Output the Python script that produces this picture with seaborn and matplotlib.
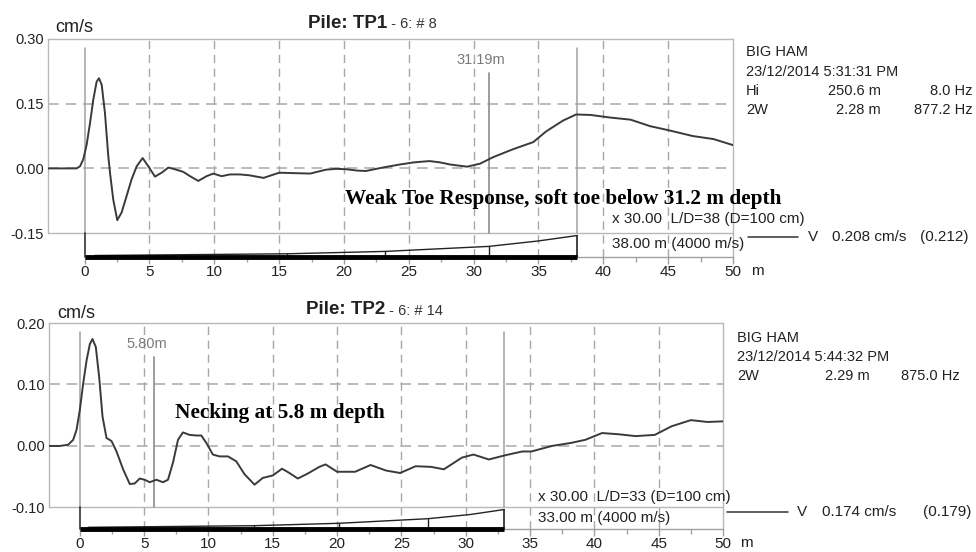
import matplotlib
matplotlib.use("Agg")
import matplotlib.pyplot as plt
import seaborn as sns
import pandas as pd
from matplotlib.lines import Line2D

# ---------------- data ----------------
tp1_depth = [-2.85, -0.61, -0.35, -0.10, 0.16, 0.42, 0.67, 0.93, 1.11, 1.32, 1.57, 1.83, 1.96, 2.21,
             2.52, 2.86, 3.24, 3.63, 4.02, 4.48, 4.91, 5.43, 5.94, 6.46, 6.97, 7.61, 8.13, 8.77,
             9.41, 9.92, 10.57, 11.21, 11.98, 12.7, 13.8, 15.0, 16.2, 17.4, 18.6, 19.4, 20.2,
             21.0, 21.7, 23.0, 24.3, 25.4, 26.6, 27.4, 28.2, 29.5, 30.5, 31.5, 33.0, 34.6, 35.6,
             36.9, 37.9, 39.0, 40.5, 42.1, 43.6, 45.1, 46.9, 48.5, 50.0]
tp1_vel = [0.0, 0.0, 0.005, 0.021, 0.055, 0.105, 0.159, 0.201, 0.209, 0.194, 0.129, 0.028, -0.010,
           -0.072, -0.120, -0.102, -0.064, -0.025, 0.005, 0.024, 0.005, -0.019, -0.010, 0.002,
           -0.002, -0.008, -0.018, -0.029, -0.018, -0.012, -0.018, -0.014, -0.014, -0.016, -0.022,
           -0.010, -0.011, -0.012, -0.003, -0.001, -0.002, -0.005, -0.006, 0.002, 0.009, 0.014,
           0.017, 0.014, 0.009, 0.004, 0.011, 0.026, 0.044, 0.061, 0.086, 0.111, 0.125, 0.124,
           0.118, 0.113, 0.098, 0.088, 0.075, 0.068, 0.054]

tp2_depth = [-2.4, -1.55, -0.91, -0.52, -0.26, 0.0, 0.26, 0.52, 0.78, 0.98, 1.24, 1.50, 1.76, 2.07,
             2.46, 2.85, 3.36, 3.88, 4.27, 4.65, 5.04, 5.43, 5.95, 6.46, 6.85, 7.24, 7.63, 8.01,
             8.53, 9.05, 9.44, 9.83, 10.34, 10.86, 11.51, 12.16, 12.80, 13.58, 14.22, 15.0, 15.72,
             16.29, 16.94, 17.71, 18.62, 19.1, 20.0, 21.4, 22.6, 23.8, 24.9, 26.1, 27.3, 28.3,
             29.7, 30.6, 31.8, 33.1, 34.4, 35.1, 36.7, 38.2, 39.3, 40.6, 41.9, 43.2, 44.7, 46.0,
             47.5, 48.8, 50.0]
tp2_vel = [0.0, 0.0, 0.002, 0.010, 0.026, 0.059, 0.102, 0.139, 0.166, 0.174, 0.161, 0.112, 0.048,
           0.013, 0.008, -0.009, -0.038, -0.062, -0.061, -0.053, -0.055, -0.059, -0.055, -0.059,
           -0.055, -0.027, 0.010, 0.022, 0.018, 0.017, 0.017, 0.005, -0.014, -0.017, -0.017,
           -0.025, -0.046, -0.063, -0.052, -0.048, -0.037, -0.044, -0.053, -0.045, -0.034, -0.030,
           -0.042, -0.042, -0.031, -0.040, -0.044, -0.033, -0.034, -0.038, -0.019, -0.014, -0.022,
           -0.015, -0.009, -0.009, 0.000, 0.005, 0.010, 0.021, 0.019, 0.016, 0.018, 0.032, 0.042,
           0.039, 0.040]

x_ticks = [0, 5, 10, 15, 20, 25, 30, 35, 40, 45, 50]
tp1_yticks = [0.30, 0.15, 0.00, -0.15]
tp2_yticks = [0.20, 0.10, 0.00, -0.10]

tp1_length = 38.0
tp2_length = 33.0
tp1_marker, tp1_marker_label = 31.19, "31.19m"
tp2_marker, tp2_marker_label = 5.80, "5.80m"

# ---------------- style ----------------
sns.set_theme(style="white")
plt.rcParams["font.family"] = ["Liberation Sans", "DejaVu Sans"]

W, H = 976, 552
fig = plt.figure(figsize=(W / 100, H / 100), dpi=100)


def fx(px):
    return px / W


def fy(py):
    return 1 - py / H


GRID = "#a8a8a8"
BOX = "#b8b8b8"
SIG = "#3a3a3a"
TXT = "#222222"


def panel(rect, xlim, ylim, yticks, depth, vel, L, marker, mlabel, prof_h):
    l, t, r, b = rect
    ax = fig.add_axes([fx(l), fy(b), (r - l) / W, (b - t) / H])
    pxu = (b - t) / (ylim[1] - ylim[0])
    box_bottom = yticks[-1]
    ax.set_xlim(*xlim)
    ax.set_ylim(*ylim)

    # grid
    for yv in yticks[1:-1]:
        ax.axhline(yv, color=GRID, lw=1.1, ls=(0, (7, 4.5)), zorder=1)
    for xv in x_ticks[1:-1]:
        ax.axvline(xv, color=GRID, lw=1.0, ls=(0, (6, 4)), zorder=1)
    ax.axhline(box_bottom, color=BOX, lw=1.0, zorder=1)

    # solid reference lines at 0 and at toe
    ytop = ylim[1] - 9 / pxu
    for xv in (0, L):
        ax.plot([xv, xv], [ytop, box_bottom], color="#a0a0a0", lw=1.1, zorder=2)
    # marker
    ax.plot([marker, marker], [ylim[1] - 34 / pxu, box_bottom], color="#8c8c8c", lw=1.2, zorder=2)
    ax.text(marker - 0.6, ylim[1] - 21 / pxu, mlabel, ha="center", va="center",
            color="#7a7a7a", fontsize=10.5)

    # signal
    df = pd.DataFrame({"depth": depth, "vel": vel})
    sns.lineplot(data=df, x="depth", y="vel", ax=ax, color=SIG, lw=1.4,
                 estimator=None, sort=False, zorder=4)
    ax.set_xlabel("")
    ax.set_ylabel("")

    # pile profile
    ybar = ylim[0]
    fr = [0.02, 0.41, 0.61, 0.82, 0.92, 1.0]
    px = [xx * L for xx in fr]
    py = [ybar + h / pxu for h in prof_h]
    ax.plot(px, py, color="#222222", lw=1.0, clip_on=False, zorder=5)
    for f, h in zip(fr[1:4], prof_h[1:4]):
        ax.plot([f * L, f * L], [ybar, ybar + h / pxu], color="#222222", lw=1.0, clip_on=False, zorder=5)
    ax.plot([L, L], [ybar, ybar + prof_h[-1] / pxu], color="#222222", lw=1.2, clip_on=False, zorder=5)
    ax.plot([0, 0], [ybar, box_bottom], color="#333333", lw=1.2, clip_on=False, zorder=5)
    ax.plot([0, L], [ybar, ybar], color="black", lw=3.5, solid_capstyle="butt",
            clip_on=False, zorder=6)

    # spines
    for s in ax.spines.values():
        s.set_color(BOX)
        s.set_linewidth(1.0)
    ax.spines["left"].set_bounds(box_bottom, ylim[1])
    ax.spines["bottom"].set_bounds(0, 50)
    ax.spines["bottom"].set_color("#a0a0a0")

    ax.set_xticks(x_ticks)
    ax.set_xticklabels([str(v) for v in x_ticks])
    ax.set_xticks([v + 2.5 for v in x_ticks[:-1]], minor=True)
    ax.tick_params(axis="x", which="major", direction="out", length=5, width=1,
                   color="#a0a0a0", labelcolor=TXT, labelsize=11, pad=1, bottom=True)
    ax.tick_params(axis="x", which="minor", direction="out", length=3.5, width=1,
                   color="#a0a0a0", bottom=True)
    ax.set_yticks(yticks)
    ax.set_yticklabels([f"{v:.2f}" for v in yticks])
    ax.tick_params(axis="y", length=0, pad=3, labelsize=10.5, labelcolor=TXT)
    ax.grid(False)
    ax.set_facecolor("white")
    return ax


ax1 = panel((48, 39, 733, 257), (-2.82, 50), (-0.2054, 0.30), tp1_yticks,
            tp1_depth, tp1_vel, tp1_length, tp1_marker, tp1_marker_label,
            [1.5, 3.2, 5.6, 10.6, 16.0, 21.5])
ax2 = panel((49, 323, 723, 529), (-2.4, 50), (-0.1351, 0.20), tp2_yticks,
            tp2_depth, tp2_vel, tp2_length, tp2_marker, tp2_marker_label,
            [1.7, 3.3, 5.7, 10.3, 14.5, 19.5])

# unit labels
for ax, xoff in ((ax1, 24), (ax2, 23)):
    pxm = ax.bbox.width / (ax.get_xlim()[1] - ax.get_xlim()[0])
    ax.text(50 + xoff / pxm, -14 / ax.bbox.height, "m", transform=ax.get_xaxis_transform(),
            ha="center", va="center", fontsize=11, color=TXT)

fig.text(fx(55), fy(28), "cm/s", fontsize=13, va="center", color=TXT)
fig.text(fx(57), fy(313), "cm/s", fontsize=13, va="center", color=TXT)

# titles
fig.canvas.draw()
rend = fig.canvas.get_renderer()
for (x0, y0, main, sub) in ((308, 23, "Pile: TP1", " - 6: # 8"), (306, 310, "Pile: TP2", " - 6: # 14")):
    t1 = fig.text(fx(x0), fy(y0), main, fontsize=13.5, fontweight="bold", va="center", color=TXT)
    bb = t1.get_window_extent(rend)
    fig.text(bb.x1 / W, fy(y0 + 1), sub, fontsize=10.5, va="center", color="#333333")

# info blocks
info_fs = 10.5
fig.text(fx(746), fy(52), "BIG HAM", fontsize=info_fs, va="center", color=TXT)
fig.text(fx(746), fy(72), "23/12/2014 5:31:31 PM", fontsize=info_fs, va="center", color=TXT)
fig.text(fx(746), fy(91), "Hi", fontsize=info_fs, va="center", color=TXT)
fig.text(fx(881), fy(91), "250.6 m", fontsize=info_fs, va="center", ha="right", color=TXT)
fig.text(fx(973), fy(91), "8.0 Hz", fontsize=info_fs, va="center", ha="right", color=TXT)
fig.text(fx(746), fy(110), "2W", fontsize=info_fs, va="center", color=TXT)
fig.text(fx(881), fy(110), "2.28 m", fontsize=info_fs, va="center", ha="right", color=TXT)
fig.text(fx(973), fy(110), "877.2 Hz", fontsize=info_fs, va="center", ha="right", color=TXT)

fig.text(fx(737), fy(338), "BIG HAM", fontsize=info_fs, va="center", color=TXT)
fig.text(fx(737), fy(357), "23/12/2014 5:44:32 PM", fontsize=info_fs, va="center", color=TXT)
fig.text(fx(737), fy(376), "2W", fontsize=info_fs, va="center", color=TXT)
fig.text(fx(870), fy(376), "2.29 m", fontsize=info_fs, va="center", ha="right", color=TXT)
fig.text(fx(960), fy(376), "875.0 Hz", fontsize=info_fs, va="center", ha="right", color=TXT)

# pile info / legend
for (xl, yx, ys, ld, lenl, lx0, lx1, ly, vx, v1x, v2x, v1, v2) in (
        (612, 219, 244, "x 30.00  L/D=38 (D=100 cm)", "38.00 m (4000 m/s)", 748, 798, 237, 808, 832, 920,
         "0.208 cm/s", "(0.212)"),
        (538, 497, 518, "x 30.00  L/D=33 (D=100 cm)", "33.00 m (4000 m/s)", 727, 788, 512, 797, 822, 923,
         "0.174 cm/s", "(0.179)")):
    fig.text(fx(xl), fy(yx), ld, fontsize=11, va="center", color=TXT)
    fig.text(fx(xl), fy(ys), lenl, fontsize=11, va="center", color=TXT)
    fig.add_artist(Line2D([fx(lx0), fx(lx1)], [fy(ly), fy(ly)], color="#333333", lw=1.1))
    fig.text(fx(vx), fy(ly), "V", fontsize=11, va="center", color=TXT)
    fig.text(fx(v1x), fy(ly), v1, fontsize=11, va="center", color=TXT)
    fig.text(fx(v2x), fy(ly), v2, fontsize=11, va="center", color=TXT)

# annotations
fig.text(fx(345), fy(204), "Weak Toe Response, soft toe below 31.2 m depth",
         family=["Liberation Serif", "DejaVu Serif"], fontweight="bold", fontsize=15.3,
         va="baseline", color="black")
fig.text(fx(175), fy(418), "Necking at 5.8 m depth",
         family=["Liberation Serif", "DejaVu Serif"], fontweight="bold", fontsize=15.3,
         va="baseline", color="black")

fig.savefig("out.png", dpi=100, facecolor="white")
